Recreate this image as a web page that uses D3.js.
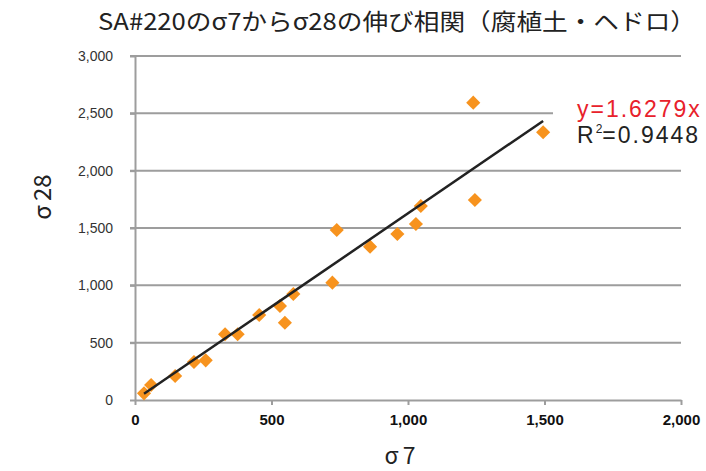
<!DOCTYPE html>
<html>
<head>
<meta charset="utf-8">
<script src="https://cdn.jsdelivr.net/npm/d3@7"></script>
<style>
  html, body { margin: 0; padding: 0; background: #fff; }
  svg { display: block; }
</style>
</head>
<body>
<svg id="chart" width="706" height="471"></svg>
<script>
const titleText = "SA#220のσ7からσ28の伸び相関（腐植土・ヘドロ）";
const xLabelParts = ["σ", "7"];
const yLabelParts = ["σ", "28"];
const sigma7 = [33, 59, 147, 216, 259, 330, 376, 455, 531, 549, 580, 723, 739, 861, 961, 1029, 1047, 1239, 1245, 1495];
const sigma28 = [58, 131, 209, 331, 346, 573, 573, 741, 820, 674, 924, 1023, 1483, 1337, 1448, 1535, 1692, 2593, 1744, 2335];
const xTicks = [0, 500, 1000, 1500, 2000];
const yTicks = [0, 500, 1000, 1500, 2000, 2500, 3000];
const slope = 1.6279;
const eqText = "y=1.6279x";
const r2Value = "=0.9448";

(function () {
const svg = d3.select("#chart");
const mLeft = 135, mRight = 681, mTop = 56, mBottom = 400;
const x = d3.scaleLinear().domain([0, 2000]).range([mLeft, mRight]);
const y = d3.scaleLinear().domain([0, 3000]).range([mBottom, mTop]);
const fmt = d3.format(",");
const gridColor = "#9d9d9d";

// horizontal gridlines
svg.append("g").selectAll("line").data(yTicks.filter(d => d > 0)).join("line")
  .attr("x1", mLeft - 5).attr("x2", mRight)
  .attr("y1", d => y(d)).attr("y2", d => y(d))
  .attr("stroke", gridColor).attr("stroke-width", 2);

// y axis
const yAxis = svg.append("g").attr("transform", `translate(${mLeft},0)`)
  .call(d3.axisLeft(y).tickValues(yTicks).tickFormat(fmt).tickSizeInner(5).tickSizeOuter(0).tickPadding(17));
yAxis.select(".domain").attr("stroke", gridColor).attr("stroke-width", 2);
yAxis.selectAll(".tick line").attr("stroke", gridColor).attr("stroke-width", 2);
yAxis.selectAll(".tick text").attr("font-family", "Liberation Sans, Arial, sans-serif")
  .attr("font-size", 14).attr("fill", "#333");

// x axis
const xAxis = svg.append("g").attr("transform", `translate(0,${mBottom})`)
  .call(d3.axisBottom(x).tickValues(xTicks).tickFormat(fmt).tickSizeInner(5).tickSizeOuter(0).tickPadding(9));
xAxis.select(".domain").attr("stroke", gridColor).attr("stroke-width", 2);
xAxis.selectAll(".tick line").attr("stroke", gridColor).attr("stroke-width", 2);
xAxis.selectAll(".tick text").attr("font-family", "Liberation Sans, Arial, sans-serif")
  .attr("font-size", 15).attr("font-weight", "bold").attr("fill", "#111");

// data points
const data = sigma7.map((v, i) => ({ x: v, y: sigma28[i] }));
svg.append("g").selectAll("path").data(data).join("path")
  .attr("d", d3.symbol().type(d3.symbolSquare).size(100))
  .attr("transform", d => `translate(${x(d.x)},${y(d.y)}) rotate(45)`)
  .attr("fill", "#F7931E");

// trendline
const xr = d3.extent(sigma7);
svg.append("line")
  .attr("x1", x(xr[0])).attr("y1", y(slope * xr[0]))
  .attr("x2", x(xr[1])).attr("y2", y(slope * xr[1]))
  .attr("stroke", "#222").attr("stroke-width", 2.5);

// equation box
svg.append("rect").attr("x", 553).attr("y", 96).attr("width", 160).attr("height", 56).attr("fill", "#fff");
svg.append("text").attr("x", 577).attr("y", 117)
  .attr("font-family", "Liberation Sans, Arial, sans-serif").attr("font-size", 23)
  .attr("letter-spacing", 2).attr("fill", "#E8212B").text(eqText);
const r2 = svg.append("text").attr("x", 577).attr("y", 143)
  .attr("font-family", "Liberation Sans, Arial, sans-serif").attr("font-size", 23)
  .attr("letter-spacing", 2).attr("fill", "#222");
r2.append("tspan").text("R");
r2.append("tspan").attr("dy", -10).attr("font-size", 12).attr("letter-spacing", 0).text("2");
r2.append("tspan").attr("dy", 10).text(r2Value);

// title
svg.append("text").attr("x", 397).attr("y", 30).attr("text-anchor", "middle")
  .attr("font-family", "Noto Sans CJK JP, sans-serif").attr("font-size", 23).attr("fill", "#222")
  .attr("textLength", 598).attr("lengthAdjust", "spacingAndGlyphs")
  .text(titleText);

// axis labels
const xl = svg.append("text").attr("x", 400).attr("y", 464).attr("text-anchor", "middle")
  .attr("font-family", "Noto Sans CJK JP, sans-serif").attr("font-size", 23).attr("fill", "#222");
xl.append("tspan").text(xLabelParts[0]);
xl.append("tspan").attr("dx", 4).text(xLabelParts[1]);
const yl = svg.append("text").attr("transform", "translate(51,197) rotate(-90)").attr("text-anchor", "middle")
  .attr("font-family", "Noto Sans CJK JP, sans-serif").attr("font-size", 24).attr("fill", "#222");
yl.append("tspan").text(yLabelParts[0]);
yl.append("tspan").attr("dx", 4).text(yLabelParts[1]);
})();
</script>
</body>
</html>
